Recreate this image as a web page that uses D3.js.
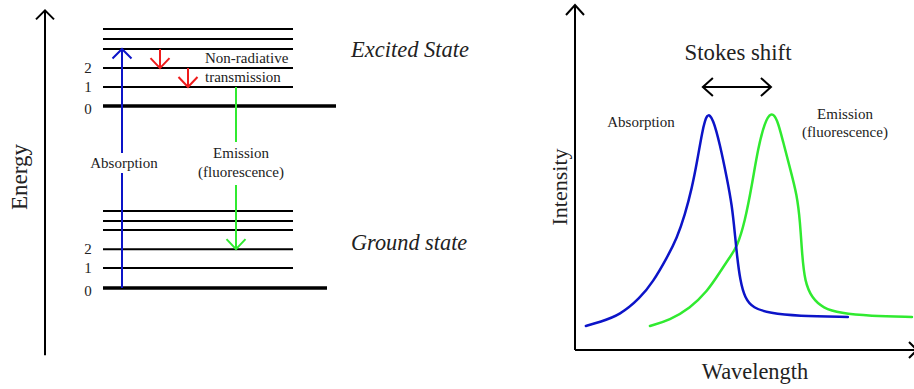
<!DOCTYPE html>
<html>
<head>
<meta charset="utf-8">
<script src="https://cdn.jsdelivr.net/npm/d3@7/dist/d3.min.js"></script>
<style>
  html, body { margin: 0; padding: 0; background: #fff; }
  svg { display: block; }
</style>
</head>
<body>
<script>
// ---- Jablonski diagram data (energy in arbitrary units) ----
const groundLevels  = [0, 0.77, 1.5, 2.24, 2.59, 2.97];
const excitedLevels = [7.03, 7.76, 8.49, 9.23, 9.61, 10];
const levelLabels   = ["0", "1", "2"];
// transitions: [fromEnergy, toEnergy]
const absorptionStep    = [0, 9.23];
const nonRadiativeSteps = [[9.23, 8.49], [8.49, 7.76]];
const emissionStep      = [7.76, 1.5];

// ---- Spectra (wavelength and intensity in arbitrary units) ----
const absWavelength = [3.2, 7.4, 13.3, 19.2, 23.0, 27.1, 30.1, 32.4, 34.5, 36.0, 37.5, 38.9, 40.7, 42.8, 44.8, 46.3, 47.2, 47.8, 48.7, 50.1, 52.5, 57.5, 65.5, 80.5];
const absIntensity  = [10.1, 11.8, 14.7, 21.8, 28.6, 38.7, 47.1, 56.7, 68.1, 79.0, 91.6, 100, 97.5, 86.1, 72.3, 60.9, 48.3, 39.5, 29.4, 21.8, 17.6, 15.5, 14.3, 13.9];
const emWavelength  = [22.1, 28.0, 33.9, 38.9, 42.8, 45.7, 47.8, 50.1, 52.2, 54.0, 56.0, 57.8, 59.6, 61.4, 63.4, 65.5, 66.4, 67.0, 67.8, 69.9, 73.2, 78.2, 87.0, 99.4];
const emIntensity   = [10.1, 12.6, 17.6, 24.4, 32.8, 39.1, 43.3, 53.8, 69.3, 84.9, 95.8, 100, 97.5, 87.4, 76.5, 65.1, 53.8, 39.9, 28.6, 21.8, 17.6, 15.5, 14.3, 13.9];
const stokesPeaks   = [38.9, 57.8];

const W = 914, H = 389;
const BLUE = "#0c14c8", GREEN = "#30ea30", RED = "#ee1c1c", BLACK = "#000";
const FONT = "'Liberation Serif', 'Times New Roman', 'DejaVu Serif', serif";

const svg = d3.select("body").append("svg")
  .attr("width", W).attr("height", H).attr("viewBox", `0 0 ${W} ${H}`)
  .attr("font-family", FONT);
svg.append("rect").attr("width", W).attr("height", H).attr("fill", "#fff");

// open chevron arrowhead pointing at (x, y) in direction dir
function chevron(g, x, y, dir, w, h, color, sw) {
  let pts;
  if (dir === "up")    pts = [[x - w, y + h], [x, y], [x + w, y + h]];
  if (dir === "down")  pts = [[x - w, y - h], [x, y], [x + w, y - h]];
  if (dir === "left")  pts = [[x + h, y - w], [x, y], [x + h, y + w]];
  if (dir === "right") pts = [[x - h, y - w], [x, y], [x - h, y + w]];
  g.append("path").attr("d", d3.line()(pts))
    .attr("fill", "none").attr("stroke", color).attr("stroke-width", sw);
}

function label(g, txt, x, y, size, anchor) {
  return g.append("text").text(txt)
    .attr("x", x).attr("y", y)
    .attr("font-family", FONT).attr("font-size", size)
    .attr("fill", "#222").attr("text-anchor", anchor || "start");
}

// ================= Left panel: energy levels =================
const left = svg.append("g");
const yE = d3.scaleLinear().domain([0, 10]).range([288, 29]);
const LX0 = 103, LX1 = 293, THICK_X1_EX = 336, THICK_X1_GR = 327;

// energy axis
left.append("line").attr("x1", 45).attr("x2", 45)
  .attr("y1", yE(-2.6)).attr("y2", yE(10.72))
  .attr("stroke", BLACK).attr("stroke-width", 2);
chevron(left, 45, yE(10.72), "up", 9, 9, BLACK, 2);
label(left, "Energy", 0, 0, 23, "middle")
  .attr("transform", "translate(27,177) rotate(-90)");

function drawLevels(levels, thickEnd) {
  levels.forEach((e, i) => {
    left.append("line")
      .attr("x1", LX0).attr("x2", i === 0 ? thickEnd : LX1)
      .attr("y1", yE(e)).attr("y2", yE(e))
      .attr("stroke", BLACK).attr("stroke-width", i === 0 ? 3.5 : 2);
    if (i < levelLabels.length) {
      label(left, levelLabels[i], 88, yE(e) + (i === 0 ? 8 : 5), 15, "middle");
    }
  });
}
drawLevels(excitedLevels, THICK_X1_EX);
drawLevels(groundLevels, THICK_X1_GR);

// absorption arrow (with a gap for its label)
const absX = 122;
left.append("line").attr("x1", absX).attr("x2", absX)
  .attr("y1", yE(absorptionStep[0])).attr("y2", 173)
  .attr("stroke", BLUE).attr("stroke-width", 2);
left.append("line").attr("x1", absX).attr("x2", absX)
  .attr("y1", 153).attr("y2", yE(absorptionStep[1]))
  .attr("stroke", BLUE).attr("stroke-width", 2);
chevron(left, absX, yE(absorptionStep[1]), "up", 9.5, 9.5, BLUE, 2);
label(left, "Absorption", 124, 168, 15, "middle");

// non-radiative relaxation arrows
[160, 188].forEach((x, i) => {
  const [a, b] = nonRadiativeSteps[i];
  left.append("line").attr("x1", x).attr("x2", x)
    .attr("y1", yE(a)).attr("y2", yE(b))
    .attr("stroke", RED).attr("stroke-width", 2);
  chevron(left, x, yE(b), "down", 9.5, 10, RED, 2);
});
label(left, "Non-radiative", 205, 63, 15);
label(left, "transmission", 205, 82, 15);

// emission arrow (with a gap for its label)
const emX = 236;
left.append("line").attr("x1", emX).attr("x2", emX)
  .attr("y1", yE(emissionStep[0])).attr("y2", 142)
  .attr("stroke", GREEN).attr("stroke-width", 2);
left.append("line").attr("x1", emX).attr("x2", emX)
  .attr("y1", 185).attr("y2", yE(emissionStep[1]))
  .attr("stroke", GREEN).attr("stroke-width", 2);
chevron(left, emX, yE(emissionStep[1]), "down", 9.5, 10, GREEN, 2);
label(left, "Emission", 241, 158, 15, "middle");
label(left, "(fluorescence)", 241, 177, 15, "middle");

label(left, "Excited State", 351, 57, 22.5).attr("font-style", "italic");
label(left, "Ground state", 351, 250, 22.3).attr("font-style", "italic");

// ================= Right panel: spectra =================
const right = svg.append("g");
const x = d3.scaleLinear().domain([0, 100]).range([575, 914]);
const y = d3.scaleLinear().domain([0, 100]).range([350, 112]);

// axes
right.append("line").attr("x1", x(0)).attr("x2", x(0))
  .attr("y1", y(0)).attr("y2", 5)
  .attr("stroke", BLACK).attr("stroke-width", 2);
chevron(right, x(0), 5, "up", 9, 10, BLACK, 2);
right.append("line").attr("x1", x(0)).attr("x2", 917)
  .attr("y1", y(0)).attr("y2", y(0))
  .attr("stroke", BLACK).attr("stroke-width", 2);
chevron(right, 917, y(0), "right", 8, 8, BLACK, 2);

label(right, "Intensity", 0, 0, 22, "middle")
  .attr("transform", "translate(567,187) rotate(-90)");
label(right, "Wavelength", 755, 379, 22.4, "middle");

const line = d3.line()
  .x(d => x(d[0])).y(d => y(d[1]))
  .curve(d3.curveBasis);

right.append("path")
  .datum(d3.zip(emWavelength, emIntensity))
  .attr("d", line).attr("fill", "none")
  .attr("stroke", GREEN).attr("stroke-width", 2.5).attr("stroke-linecap", "round");
right.append("path")
  .datum(d3.zip(absWavelength, absIntensity))
  .attr("d", line).attr("fill", "none")
  .attr("stroke", BLUE).attr("stroke-width", 2.5).attr("stroke-linecap", "round");

label(right, "Absorption", 641, 127, 15, "middle");
label(right, "Emission", 845, 119, 15, "middle");
label(right, "(fluorescence)", 845, 137, 15, "middle");

// Stokes shift double arrow between the two peaks
const sy = 87, sx0 = x(stokesPeaks[0]) - 4, sx1 = x(stokesPeaks[1]);
right.append("line").attr("x1", sx0).attr("x2", sx1).attr("y1", sy).attr("y2", sy)
  .attr("stroke", BLACK).attr("stroke-width", 2);
chevron(right, sx0, sy, "left", 9, 10, BLACK, 2);
chevron(right, sx1, sy, "right", 9, 10, BLACK, 2);
label(right, "Stokes shift", 738, 60, 22.8, "middle");
</script>
</body>
</html>
